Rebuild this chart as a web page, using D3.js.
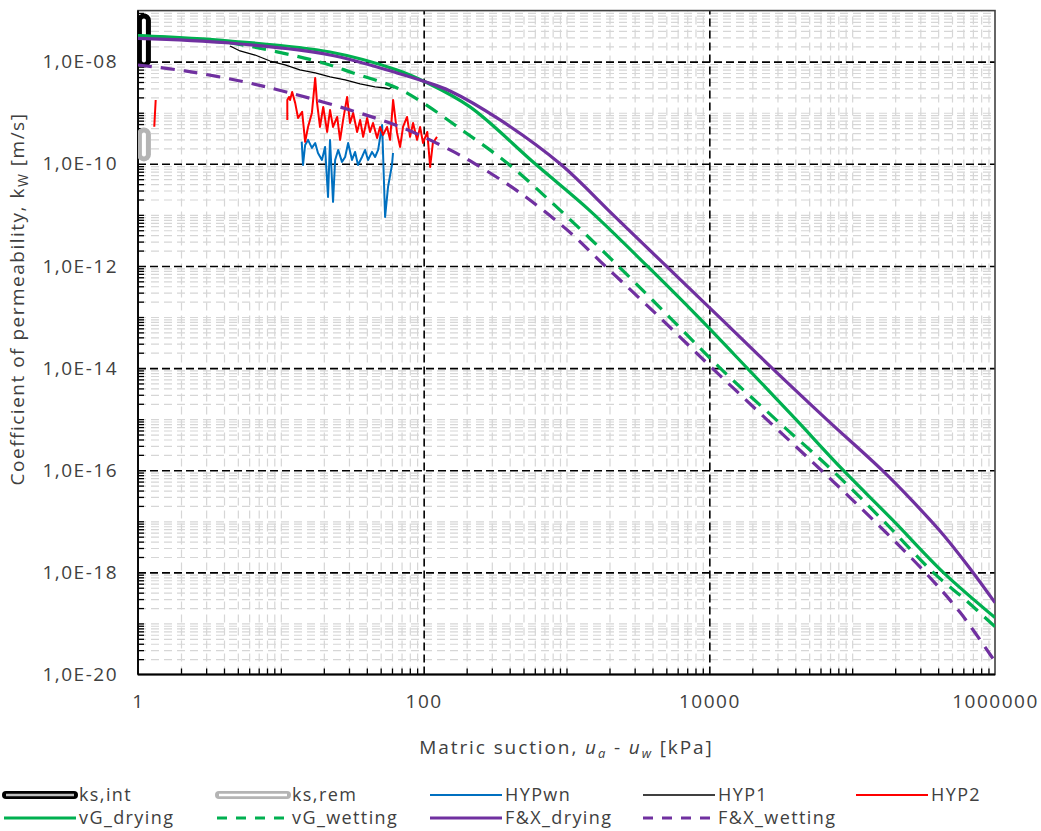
<!DOCTYPE html>
<html>
<head>
    <style>
        body { margin: 0; background: #fff; }
        text { font-family: "Open Sans", sans-serif; fill: #404040; }
        .tick-label { font-size: 19px; letter-spacing: 1.5px; }
        .title { font-size: 19px; letter-spacing: 1.5px; }
        .xtitle { font-size: 19px; letter-spacing: 1.9px; }
        .legend text { font-size: 18px; letter-spacing: 1.4px; }
    </style>
    <script src="https://d3js.org/d3.v7.min.js"></script>
</head>
<body>
<svg width="1041" height="831"></svg>
<script>
    // ---- data (suction in kPa, permeability in m/s) ----
    var suctionTicks = [1, 100, 10000, 1000000];
    var suctionTickLabels = ["1", "100", "10000", "1000000"];
    var kTicks = [1e-20, 1e-18, 1e-16, 1e-14, 1e-12, 1e-10, 1e-8];
    var kTickLabels = ["1,0E-20", "1,0E-18", "1,0E-16", "1,0E-14", "1,0E-12", "1,0E-10", "1,0E-08"];

    var ksInt = [[1.1, 1.05e-8], [1.1, 6.4e-8]];
    var ksRem = [[1.1, 1.53e-10], [1.1, 3.76e-10]];

    var hypWn = [[14.0, 2.72e-10], [14.3, 9.5e-11], [14.8, 2.34e-10], [15.5, 2.94e-10], [16.5, 2.05e-10],
        [17.4, 2.56e-10], [18.2, 1.63e-10], [19.4, 1.19e-10], [20.4, 2.14e-10], [21.4, 2.25e-11],
        [22.1, 2.94e-10], [23.2, 1.80e-11], [24.0, 1.19e-10], [25.2, 1.87e-10], [26.8, 1.09e-10],
        [28.2, 1.36e-10], [29.6, 2.56e-10], [31.5, 1.19e-10], [33.1, 1.71e-10], [34.7, 9.5e-11],
        [37.0, 1.36e-10], [38.9, 1.87e-10], [40.8, 1.19e-10], [43.5, 1.71e-10], [45.7, 1.36e-10],
        [48.0, 1.87e-10], [51.2, 5.77e-10], [53.7, 9.1e-12], [56.3, 3.53e-11], [60.0, 9.5e-11], [61.0, 1.63e-10]];

    var hyp1 = [[4.41, 2.03e-8], [5.18, 1.62e-8], [6.60, 1.35e-8], [8.40, 1.03e-8], [10.7, 8.61e-9],
        [13.6, 6.89e-9], [17.4, 6.01e-9], [22.1, 5.02e-9], [28.2, 4.39e-9], [35.9, 3.66e-9],
        [45.7, 3.20e-9], [53.7, 3.05e-9], [57.2, 2.92e-9], [60.0, 3.20e-9], [62.1, 3.05e-9]];

    // null marks the break between the two measured pieces
    var hyp2 = [[1.33, 1.78e-9], [1.30, 5.3e-10], null,
        [11.1, 7.23e-10], [11.1, 1.78e-9], [11.4, 2.04e-9], [11.6, 1.78e-9], [12.0, 2.55e-9],
        [12.6, 1.56e-9], [13.2, 7.91e-10], [14.1, 1.04e-9], [14.8, 2.69e-10], [15.5, 5.27e-10],
        [16.5, 9.9e-10], [17.4, 4.80e-9], [17.9, 1.63e-9], [18.8, 5.27e-10], [19.8, 1.30e-9],
        [21.1, 4.21e-10], [22.1, 1.13e-9], [23.2, 5.27e-10], [24.8, 8.28e-10], [26.0, 2.94e-10],
        [27.3, 7.23e-10], [29.1, 2.04e-9], [30.5, 6.31e-10], [32.1, 9.9e-10], [34.2, 4.21e-10],
        [35.9, 7.23e-10], [37.7, 3.37e-10], [40.2, 7.91e-10], [42.1, 4.21e-10], [44.2, 6.31e-10],
        [47.2, 3.21e-10], [49.5, 5.27e-10], [52.0, 3.68e-10], [55.4, 5.27e-10], [58.2, 2.94e-10],
        [61.1, 1.78e-9], [65.1, 4.03e-10], [68.4, 2.14e-10], [71.7, 5.27e-10], [76.5, 8.28e-10],
        [80.3, 3.37e-10], [84.3, 6.31e-10], [89.9, 2.94e-10], [94.4, 5.27e-10], [99.0, 2.56e-10],
        [106, 4.21e-10], [111, 8.7e-11], [116, 2.56e-10], [124, 3.37e-10]];

    var vgDrying = [[1, 3.23e-8], [4.41, 2.54e-8], [22.1, 1.55e-8], [65.1, 6.89e-9], [101, 4.10e-9],
        [211, 1.30e-9], [603, 1.0e-10], [1462, 1.20e-11], [3670, 1e-12], [8220, 1.05e-13],
        [18400, 1e-14], [39900, 1.02e-15], [86500, 1e-16], [194000, 1.03e-17], [434000, 1e-18],
        [1000000, 1.3e-19]];

    var vgWetting = [[1, 3.23e-8], [2.2, 2.78e-8], [4.41, 2.32e-8], [8.82, 1.62e-8], [19.8, 9.44e-9],
        [32.1, 6.01e-9], [65.1, 3.05e-9], [99, 1.56e-9], [189, 4.41e-10], [390, 1e-10],
        [946, 1.09e-11], [2300, 1e-12], [5230, 1.01e-13], [11900, 1e-14], [29400, 9.7e-16],
        [72400, 1e-16], [165000, 1.03e-17], [369000, 1e-18], [619000, 2.92e-19], [1000000, 8.65e-20]];

    var fxDrying = [[1, 2.87e-8], [4.41, 2.32e-8], [22.1, 1.35e-8], [65.1, 6.01e-9], [101, 4.10e-9],
        [153, 2.67e-9], [343, 7.23e-10], [902, 1e-10], [2120, 1.0e-11], [4980, 1e-12],
        [11700, 1.01e-13], [27500, 1e-14], [66800, 9.7e-16], [162000, 1e-16], [267000, 2.42e-17],
        [434000, 5.47e-18], [670000, 1.18e-18], [1000000, 2.55e-19]];

    var fxWetting = [[1, 8.61e-9], [2.13, 6.58e-9], [5.18, 4.19e-9], [11.6, 2.44e-9], [30.5, 1.13e-9],
        [71.7, 5.04e-10], [153, 1.87e-10], [229, 1e-10], [473, 2.70e-11], [1010, 5.08e-12],
        [1862, 1e-12], [4450, 1.01e-13], [10470, 1e-14], [25400, 9.7e-16], [60700, 1e-16],
        [140000, 1.07e-17], [324000, 1e-18], [571000, 1.63e-19], [1000000, 1.79e-20]];

    var seriesNames = ["ks,int", "ks,rem", "HYPwn", "HYP1", "HYP2", "vG_drying", "vG_wetting", "F&X_drying", "F&X_wetting"];

    // ---- layout ----
    var svg = d3.select("svg");
    var pLeft = 138, pRight = 995, pTop = 10.6, pBottom = 674.5;

    var x = d3.scaleLog().domain([1, 1e6]).range([pLeft, pRight]);
    var y = d3.scaleLog().domain([1e-20, 1e-7]).range([pBottom, pTop]);

    function minorValues(e0, e1, majors) {
        var v = [];
        for (var e = e0; e < e1; e++) {
            for (var k = 1; k < 10; k++) {
                var val = e < 0 ? k / Math.pow(10, -e) : k * Math.pow(10, e);
                if (majors.indexOf(val) < 0) v.push(val);
            }
        }
        return v;
    }
    var minorX = minorValues(0, 6, suctionTicks);
    var minorY = minorValues(-20, -7, kTicks);

    function styleLines(color, width, dash) {
        return function (g) {
            g.select(".domain").remove();
            g.selectAll("line").attr("stroke", color).attr("stroke-width", width).attr("stroke-dasharray", dash);
        };
    }

    // gridlines
    svg.append("g")
        .attr("transform", "translate(0," + pBottom + ")")
        .call(d3.axisBottom(x).tickValues(minorX).tickSize(-(pBottom - pTop)).tickFormat(""))
        .call(styleLines("#d6d6d6", 1.2, "8,5"));
    svg.append("g")
        .attr("transform", "translate(" + pLeft + ",0)")
        .call(d3.axisLeft(y).tickValues(minorY).tickSize(-(pRight - pLeft)).tickFormat(""))
        .call(styleLines("#d6d6d6", 1.2, "8,5"));
    svg.append("g")
        .attr("transform", "translate(0," + pBottom + ")")
        .call(d3.axisBottom(x).tickValues(suctionTicks.slice(1, 3)).tickSize(-(pBottom - pTop)).tickFormat(""))
        .call(styleLines("#000", 1.6, "8,4"));
    svg.append("g")
        .attr("transform", "translate(" + pLeft + ",0)")
        .call(d3.axisLeft(y).tickValues(kTicks.slice(1)).tickSize(-(pRight - pLeft)).tickFormat(""))
        .call(styleLines("#000", 1.6, "8,4"));

    // minor tick marks pointing inward
    svg.append("g")
        .attr("transform", "translate(" + pLeft + ",0)")
        .call(d3.axisLeft(y).tickValues(minorY).tickSize(-6).tickFormat(""))
        .call(styleLines("#000", 1.3, null));
    svg.append("g")
        .attr("transform", "translate(0," + pBottom + ")")
        .call(d3.axisBottom(x).tickValues(minorX).tickSize(-6).tickFormat(""))
        .call(styleLines("#000", 1.3, null));

    // plot border
    svg.append("rect")
        .attr("x", pLeft).attr("y", pTop)
        .attr("width", pRight - pLeft).attr("height", pBottom - pTop)
        .attr("fill", "none").attr("stroke", "#404040").attr("stroke-width", 1.6);
    svg.append("line").attr("x1", pLeft).attr("x2", pLeft).attr("y1", pTop).attr("y2", pBottom)
        .attr("stroke", "#000").attr("stroke-width", 1.8);
    svg.append("line").attr("x1", pLeft).attr("x2", pRight).attr("y1", pBottom).attr("y2", pBottom)
        .attr("stroke", "#000").attr("stroke-width", 1.8);

    // tick labels
    svg.append("g")
        .attr("transform", "translate(" + pLeft + ",0)")
        .call(d3.axisLeft(y).tickValues(kTicks).tickSize(0).tickPadding(20)
            .tickFormat(function (d, i) { return kTickLabels[i]; }))
        .call(g => g.select(".domain").remove())
        .call(g => g.selectAll("text").attr("class", "tick-label").attr("fill", "#404040"));
    svg.append("g")
        .attr("transform", "translate(0," + pBottom + ")")
        .call(d3.axisBottom(x).tickValues(suctionTicks).tickSize(0).tickPadding(20)
            .tickFormat(function (d, i) { return suctionTickLabels[i]; }))
        .call(g => g.select(".domain").remove())
        .call(g => g.selectAll("text").attr("class", "tick-label").attr("fill", "#404040"));
    svg.selectAll("g[font-family]").attr("font-family", null).attr("font-size", null);

    // axis titles
    var yt = svg.append("text").attr("class", "title")
        .attr("transform", "translate(24,299) rotate(-90)")
        .attr("text-anchor", "middle");
    yt.append("tspan").text("Coefficient of permeability, k");
    yt.append("tspan").attr("dy", 4).style("font-size", "14px").text("W");
    yt.append("tspan").attr("dy", -4).text(" [m/s]");

    var xt = svg.append("text").attr("class", "xtitle")
        .attr("x", (pLeft + pRight) / 2).attr("y", 754)
        .attr("text-anchor", "middle");
    xt.append("tspan").text("Matric suction, ");
    xt.append("tspan").style("font-style", "italic").text("u");
    xt.append("tspan").attr("dy", 4).style("font-style", "italic").style("font-size", "13px").text("a");
    xt.append("tspan").attr("dy", -4).text(" - ");
    xt.append("tspan").style("font-style", "italic").text("u");
    xt.append("tspan").attr("dy", 4).style("font-style", "italic").style("font-size", "13px").text("w");
    xt.append("tspan").attr("dy", -4).text(" [kPa]");

    // ---- series ----
    var series = [
        { name: seriesNames[0], data: ksInt, color: "#000", width: 14, inner: "#fff", innerWidth: 4, legendInner: "#bfbfbf" },
        { name: seriesNames[1], data: ksRem, color: "#b4b4b4", width: 14, inner: "#fff", innerWidth: 4, legendInner: "#fff" },
        { name: seriesNames[2], data: hypWn, color: "#0070c0", width: 2 },
        { name: seriesNames[3], data: hyp1, color: "#000", width: 1.3 },
        { name: seriesNames[4], data: hyp2, color: "#ff0000", width: 2 },
        { name: seriesNames[5], data: vgDrying, color: "#00b050", width: 3.2, smooth: true },
        { name: seriesNames[6], data: vgWetting, color: "#00b050", width: 3.2, dash: "14,9", smooth: true },
        { name: seriesNames[7], data: fxDrying, color: "#7030a0", width: 3.2, smooth: true },
        { name: seriesNames[8], data: fxWetting, color: "#7030a0", width: 3.2, dash: "14,9", smooth: true }
    ];

    svg.append("clipPath").attr("id", "plot-clip")
        .append("rect").attr("x", pLeft).attr("y", pTop).attr("width", pRight - pLeft).attr("height", pBottom - pTop);

    var plot = svg.append("g").attr("clip-path", "url(#plot-clip)");

    series.forEach(function (s) {
        var line = d3.line()
            .defined(function (d) { return d !== null; })
            .x(function (d) { return x(d[0]); })
            .y(function (d) { return y(d[1]); })
            .curve(s.smooth ? d3.curveCatmullRom.alpha(0.5) : d3.curveLinear);
        plot.append("path")
            .datum(s.data)
            .attr("d", line)
            .attr("fill", "none")
            .attr("stroke", s.color)
            .attr("stroke-width", s.width)
            .attr("stroke-linejoin", "round")
            .attr("stroke-linecap", s.inner ? "round" : "butt")
            .attr("stroke-dasharray", s.dash || null);
        if (s.inner) {
            plot.append("path")
                .datum(s.data)
                .attr("d", line)
                .attr("fill", "none")
                .attr("stroke", s.inner)
                .attr("stroke-width", s.innerWidth)
                .attr("stroke-linecap", "round");
        }
    });

    // ---- legend ----
    var legend = svg.append("g").attr("class", "legend");
    series.forEach(function (s, i) {
        var col = i < 5 ? i : i - 5;
        var row = i < 5 ? 0 : 1;
        var x0 = col * 213, y0 = row === 0 ? 795 : 818;
        var g = legend.append("g").attr("transform", "translate(" + x0 + "," + y0 + ")");
        g.append("line")
            .attr("x1", s.inner ? 6 : 4).attr("x2", s.inner ? 74 : 76)
            .attr("stroke", s.color)
            .attr("stroke-width", s.inner ? 8 : Math.min(s.width, 3))
            .attr("stroke-linecap", s.inner ? "round" : "butt")
            .attr("stroke-dasharray", s.dash ? "10,9" : null);
        if (s.inner) {
            g.append("line").attr("x1", 6).attr("x2", 74)
                .attr("stroke", s.legendInner).attr("stroke-width", 2.5);
        }
        g.append("text").attr("x", 79).attr("dy", "0.35em").text(s.name);
    });
</script>
</body>
</html>
